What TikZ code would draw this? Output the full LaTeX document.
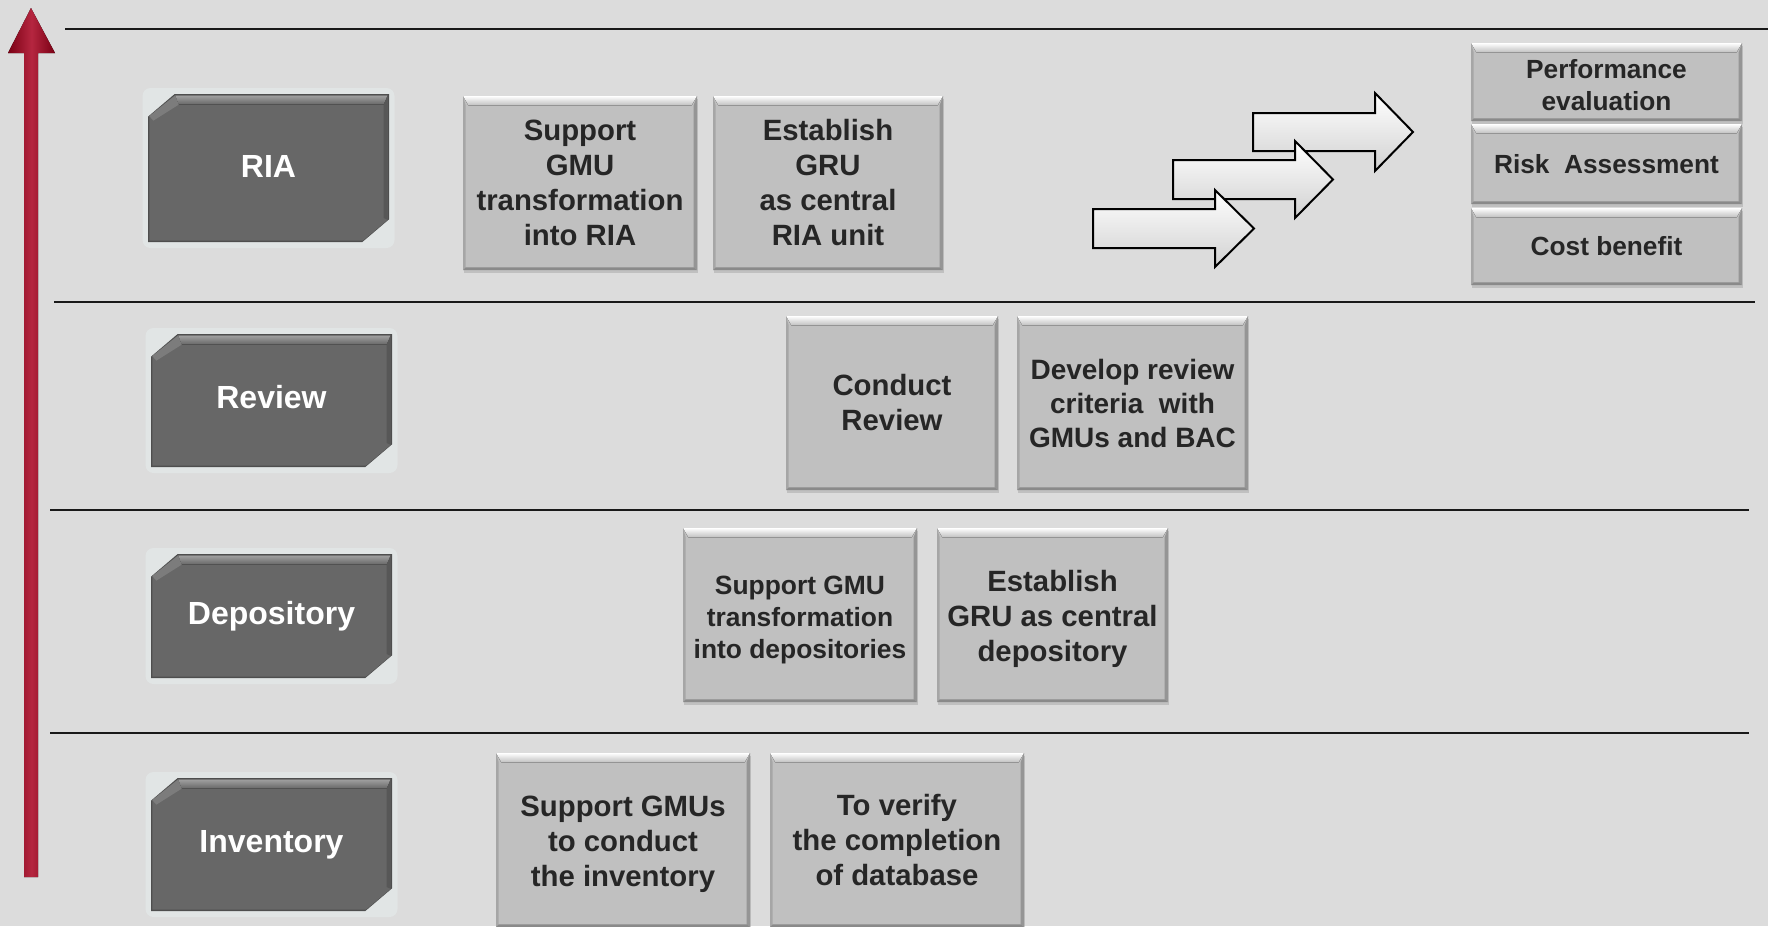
\documentclass[tikz,border=0pt]{standalone}
\usepackage{fontspec}
\setmainfont{Liberation Sans}
\usetikzlibrary{shadows}
\definecolor{bgc}{HTML}{DCDCDC}
\definecolor{darkbox}{HTML}{676767}
\definecolor{darkedge}{HTML}{4E4E4E}
\definecolor{darktop}{HTML}{A0A0A0}
\definecolor{darkchamf}{HTML}{7C7C7C}
\definecolor{glow}{HTML}{E1E5E5}
\definecolor{lightbox}{HTML}{C0C0C0}
\definecolor{lightside}{HTML}{A6A6A6}
\definecolor{lightbot}{HTML}{8A8A8A}
\definecolor{txt}{HTML}{262626}
\definecolor{redarrow}{HTML}{A8001E}
\definecolor{reddark}{HTML}{7A0014}
\def\pb{path picture bounding box}
\tikzset{
  lab/.style={rectangle, inner sep=0pt, minimum width=180.75pt, minimum height=#1,
    text=white, font=\bfseries\fontsize{24}{29}\selectfont,
    path picture={
      \fill[darkedge] ([xshift=20pt]\pb.north west) -- (\pb.north east) -- ([yshift=17pt]\pb.south east) -- ([xshift=-20pt]\pb.south east) -- (\pb.south west) -- ([yshift=-17pt]\pb.north west) -- cycle;
      \fill[darkbox] ([xshift=20.4pt,yshift=-1pt]\pb.north west) -- ([xshift=-1pt,yshift=-1pt]\pb.north east) -- ([xshift=-1pt,yshift=16.6pt]\pb.south east) -- ([xshift=-19.6pt,yshift=1pt]\pb.south east) -- ([xshift=1pt,yshift=1pt]\pb.south west) -- ([xshift=1pt,yshift=-16.6pt]\pb.north west) -- cycle;
      \fill[top color=darktop, bottom color=darkbox] ([xshift=20.4pt,yshift=-1pt]\pb.north west) -- ([xshift=-1pt,yshift=-1pt]\pb.north east) -- ([xshift=-4pt,yshift=-8pt]\pb.north east) -- ([xshift=23pt,yshift=-8pt]\pb.north west) -- cycle;
      \fill[darkchamf] ([xshift=20.4pt,yshift=-1pt]\pb.north west) -- ([xshift=23pt,yshift=-8pt]\pb.north west) -- ([xshift=4pt,yshift=-20pt]\pb.north west) -- ([xshift=1pt,yshift=-16.6pt]\pb.north west) -- cycle;
      \fill[darkbox!85!black] ([xshift=-1pt,yshift=-1pt]\pb.north east) -- ([xshift=-4pt,yshift=-8pt]\pb.north east) -- ([xshift=-4pt,yshift=18pt]\pb.south east) -- ([xshift=-1pt,yshift=16.6pt]\pb.south east) -- cycle;
    }},
  box/.style 2 args={rectangle, inner sep=0pt, minimum width=#1, minimum height=#2,
    text=txt, align=center, font=\bfseries\fontsize{22}{26.25}\selectfont,
    drop shadow={shadow xshift=1pt, shadow yshift=-2.2pt, opacity=0.3},
    path picture={
      \fill[lightbox] (\pb.south west) rectangle (\pb.north east);
      \fill[top color=white, bottom color=lightbox] (\pb.north west) -- (\pb.north east) -- ([xshift=-4pt,yshift=-7pt]\pb.north east) -- ([xshift=4pt,yshift=-7pt]\pb.north west) -- cycle;
      \fill[lightside] (\pb.north west) -- ([xshift=2pt,yshift=-7pt]\pb.north west) -- ([xshift=2pt,yshift=2pt]\pb.south west) -- (\pb.south west) -- cycle;
      \fill[lightside!90!black] (\pb.north east) -- ([xshift=-2.5pt,yshift=-7pt]\pb.north east) -- ([xshift=-2.5pt,yshift=2pt]\pb.south east) -- (\pb.south east) -- cycle;
      \fill[lightbot] (\pb.south west) -- ([xshift=2pt,yshift=2pt]\pb.south west) -- ([xshift=-2.5pt,yshift=2pt]\pb.south east) -- (\pb.south east) -- cycle;
    }},
  boxtext/.style={inner sep=0pt, text=txt, align=center, font=\bfseries\fontsize{22}{26.25}\selectfont},
  sep/.style={line width=1.5pt, black!90},
  flow/.style={draw=black, line width=1.5pt, top color=white, bottom color=black!18, line join=miter},
}
\begin{document}
\begin{tikzpicture}[x=0.75pt,y=-0.75pt]
\fill[bgc] (0,0) rectangle (1768,926);
\useasboundingbox (0,0) rectangle (1768,926);

% soft glow behind level labels
\foreach \cx/\cy/\h in {268.5/168/148, 271.5/400.5/133, 271.5/616/124, 271.5/844.5/133}{
  \fill[glow, rounded corners=6pt] (\cx-126,\cy-\h/2-6) rectangle (\cx+126,\cy+\h/2+6);
}

% separators
\draw[sep] (65,29) -- (1768,29);
\draw[sep] (54,302) -- (1755,302);
\draw[sep] (50,510) -- (1749,510);
\draw[sep] (50,733) -- (1749,733);

% red vertical arrow
\fill[left color=reddark, right color=reddark, middle color=redarrow!85!white]
  (24,877) -- (24,53) -- (8,53) -- (31,8) -- (55,53) -- (38,53) -- (38,877) -- cycle;

% level labels
\node[lab=111pt]   (ria) at (268.5,168)   {\raisebox{2pt}{RIA}};
\node[lab=99.75pt] (rev) at (271.5,400.5) {\raisebox{5pt}{Review}};
\node[lab=93pt]    (dep) at (271.5,616)   {\raisebox{-6pt}{Depository}};
\node[lab=99.75pt] (inv) at (271.5,844.5) {\raisebox{1.5pt}{Inventory}};

% RIA row
\node[box={175.5pt}{130.5pt}] (s1) at (580,183) {Support\\GMU\\transformation\\into RIA};
\node[box={172.5pt}{130.5pt}] (s2) at (828,183) {Establish\\GRU\\as central\\RIA unit};

% right column
\node[box={203.25pt}{58.5pt}, font=\bfseries\fontsize{19.7}{23.6}\selectfont] (pe) at (1606.5,82) {};
\node[boxtext, font=\bfseries\fontsize{19.7}{23.6}\selectfont] (pet) at (1606.5,85) {Performance\\evaluation};
\node[box={203.25pt}{60pt}, font=\bfseries\fontsize{19.7}{23.6}\selectfont] (ra) at (1606.5,164) {Risk~~Assessment};
\node[box={203.25pt}{57.75pt}, font=\bfseries\fontsize{19.7}{23.6}\selectfont] (cb) at (1606.5,246.5) {Cost benefit};

% flow arrows (back to front)
\path[flow] (1253,113) -- (1375,113) -- (1375,93) -- (1413,132) -- (1375,171) -- (1375,151) -- (1253,151) -- cycle;
\path[flow] (1173,160) -- (1295,160) -- (1295,141) -- (1333,179.5) -- (1295,218) -- (1295,199) -- (1173,199) -- cycle;
\path[flow] (1093,209) -- (1215,209) -- (1215,190) -- (1254,228.5) -- (1215,267) -- (1215,248) -- (1093,248) -- cycle;

% Review row
\node[box={159pt}{130.5pt}] (cr) at (892,403) {Conduct\\Review};
\node[box={173.25pt}{130.5pt}, font=\bfseries\fontsize{21}{25.5}\selectfont] (dr) at (1132.5,403) {Develop review\\criteria~~with\\GMUs and BAC};

% Depository row
\node[box={175.5pt}{130.5pt}] (sd) at (800,615) {};
\node[boxtext, font=\bfseries\fontsize{19.8}{23.7}\selectfont] (sdt) at (800,620) {Support GMU\\transformation\\into depositories};
\node[box={173.25pt}{130.5pt}] (ed) at (1052.5,615) {};
\node[boxtext] (edt) at (1052.5,619) {Establish\\GRU as central\\depository};

% Inventory row
\node[box={190.5pt}{130.5pt}] (si) at (623,840) {};
\node[boxtext] (sit) at (623,844) {Support GMUs\\to conduct\\the inventory};
\node[box={190.5pt}{130.5pt}] (tv) at (897,840) {To verify\\the completion\\of database};
\end{tikzpicture}
\end{document}
